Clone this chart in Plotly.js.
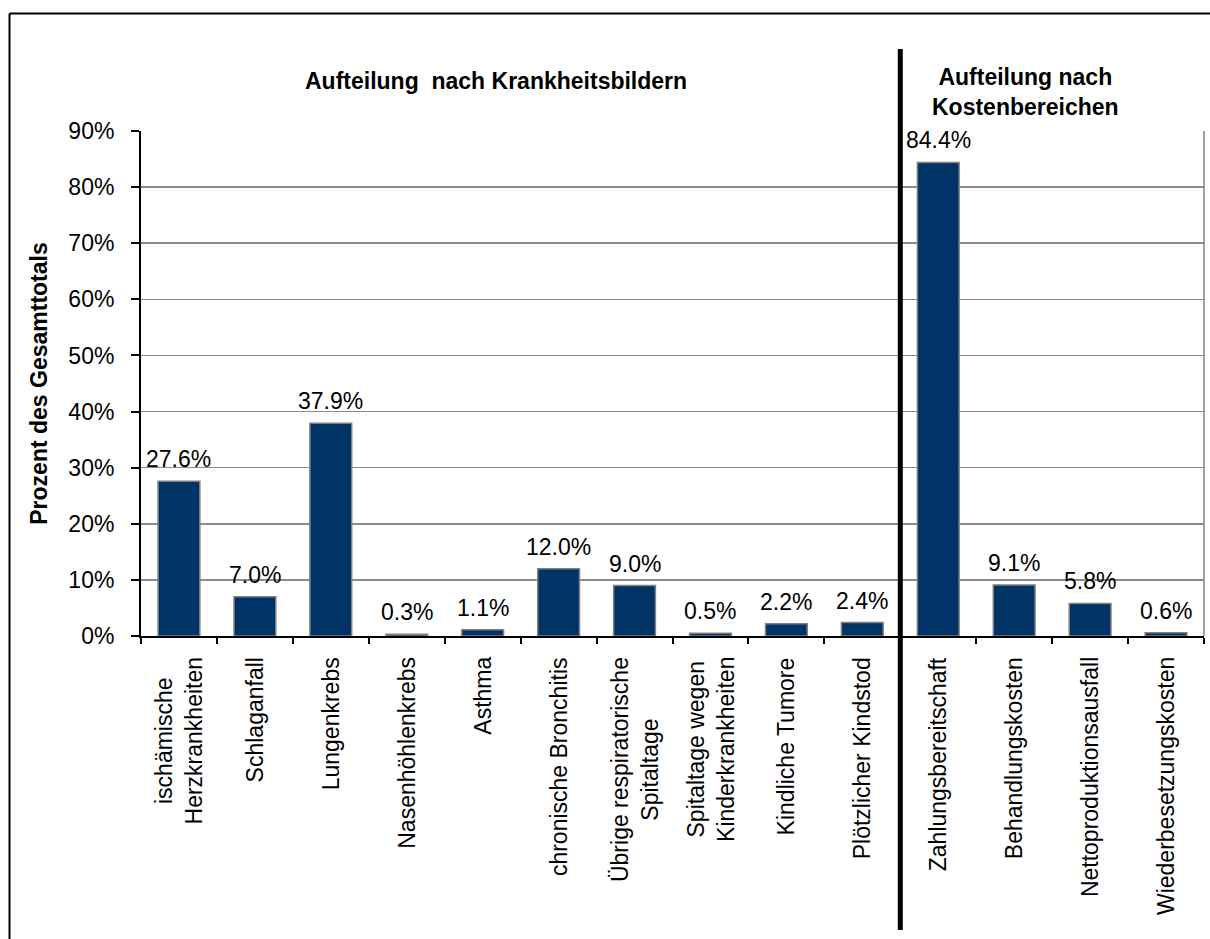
<!DOCTYPE html>
<html>
<head>
<meta charset="utf-8">
<script src="https://cdn.plot.ly/plotly-3.0.1.min.js"></script>
<style>
  html, body { margin: 0; padding: 0; background: #ffffff; }
  #chart { width: 1210px; height: 939px; }
</style>
</head>
<body>
<div id="chart"></div>
<script>
// ---- data ----
const categories = [
  "ischämische<br>Herzkrankheiten",
  "Schlaganfall",
  "Lungenkrebs",
  "Nasenhöhlenkrebs",
  "Asthma",
  "chronische Bronchitis",
  "Übrige respiratorische<br>Spitaltage",
  "Spitaltage wegen<br>Kinderkrankheiten",
  "Kindliche Tumore",
  "Plötzlicher Kindstod",
  "Zahlungsbereitschaft",
  "Behandlungskosten",
  "Nettoproduktionsausfall",
  "Wiederbesetzungskosten"
];
const values = [27.6, 7.0, 37.9, 0.3, 1.1, 12.0, 9.0, 0.5, 2.2, 2.4, 84.4, 9.1, 5.8, 0.6];
const sectionTitles = ["Aufteilung  nach Krankheitsbildern", "Aufteilung nach<br>Kostenbereichen"];
const yTitle = "Prozent des Gesamttotals";
const yTicks = [0, 10, 20, 30, 40, 50, 60, 70, 80, 90];
const yTickText = ["0%", "10%", "20%", "30%", "40%", "50%", "60%", "70%", "80%", "90%"];
const splitAfter = 10; // number of categories in the first section

// ---- chart ----
const FONT = "Liberation Sans, Arial, sans-serif";
const FS = 23;
const W = 1210, H = 939;
const M = { l: 141, r: 6, t: 131, b: 303 };
const pw = W - M.l - M.r, ph = H - M.t - M.b;
const px2x = p => (p - M.l) / pw;
const px2y = p => (H - M.b - p) / ph;

const trace = {
  type: "bar",
  x: categories,
  y: values,
  marker: { color: "#003366", line: { color: "#808080", width: 1.5 } },
  hoverinfo: "x+y"
};

// value labels above bars
const annotations = values.map((v, i) => ({
  x: categories[i], y: v, xref: "x", yref: "y",
  text: v.toFixed(1) + "%",
  showarrow: false, yanchor: "bottom", yshift: 7,
  font: { family: FONT, size: FS, color: "#000" }
}));

// category labels (rotated, lines centred like the original)
categories.forEach(c => {
  annotations.push({
    x: c, y: 0, xref: "x", yref: "y",
    text: c, textangle: -90, align: "center",
    showarrow: false, xanchor: "center", yanchor: "top", yshift: -19,
    font: { family: FONT, size: FS, color: "#000" }
  });
});

annotations.push({
  xref: "paper", yref: "paper", x: px2x(496), y: px2y(81),
  text: "<b>" + sectionTitles[0] + "</b>", showarrow: false,
  xanchor: "center", yanchor: "middle",
  font: { family: FONT, size: FS, color: "#000" }
});
annotations.push({
  xref: "paper", yref: "paper", x: px2x(1025), y: px2y(92),
  text: "<b>" + sectionTitles[1] + "</b>", showarrow: false,
  xanchor: "center", yanchor: "middle", align: "center",
  font: { family: FONT, size: FS, color: "#000" }
});

const sepX = splitAfter / categories.length;

const shapes = [
  // outer chart border (top & left visible)
  { type: "line", xref: "paper", yref: "paper", x0: px2x(9.5), x1: px2x(9.5), y0: px2y(990), y1: px2y(13.5),
    line: { color: "#000", width: 2 } },
  { type: "line", xref: "paper", yref: "paper", x0: px2x(9.5), x1: px2x(1220), y0: px2y(13.5), y1: px2y(13.5),
    line: { color: "#000", width: 2 } },
  // right plot-area border
  { type: "line", xref: "paper", yref: "paper", x0: 1, x1: 1, y0: 0, y1: 1,
    line: { color: "#808080", width: 1.5 } },
  // section separator
  { type: "line", xref: "paper", yref: "paper", x0: sepX, x1: sepX, y0: px2y(930), y1: px2y(49),
    line: { color: "#000", width: 5 } }
];

const layout = {
  width: W, height: H,
  margin: M,
  paper_bgcolor: "#ffffff",
  plot_bgcolor: "#ffffff",
  showlegend: false,
  bargap: 0.45,
  font: { family: FONT, size: FS, color: "#000" },
  xaxis: {
    type: "category",
    tickson: "boundaries",
    ticks: "outside", ticklen: 6, tickwidth: 2, tickcolor: "#000",
    showticklabels: false,
    showline: true, linecolor: "#000", linewidth: 2,
    showgrid: false, zeroline: false,
    automargin: false
  },
  yaxis: {
    range: [0, 90],
    tickvals: yTicks, ticktext: yTickText,
    ticks: "outside", ticklen: 8, tickwidth: 2, tickcolor: "#000",
    showline: true, linecolor: "#000", linewidth: 2,
    showgrid: true, gridcolor: "#8c8c8c", gridwidth: 1.5,
    zeroline: false,
    ticklabelstandoff: 12,
    tickfont: { family: FONT, size: FS, color: "#000" },
    title: { text: "<b>" + yTitle + "</b>", font: { family: FONT, size: FS, color: "#000" }, standoff: 14 },
    automargin: false
  },
  annotations: annotations,
  shapes: shapes
};

Plotly.newPlot("chart", [trace], layout, { displayModeBar: false, staticPlot: true });
</script>
</body>
</html>
